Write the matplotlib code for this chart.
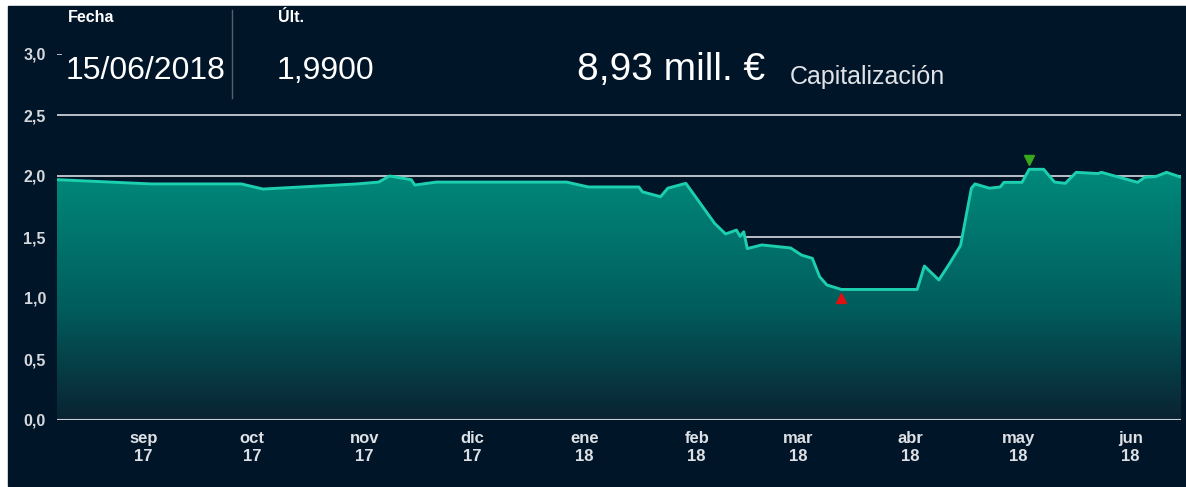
import matplotlib
matplotlib.use("Agg")
import matplotlib.pyplot as plt
import matplotlib.dates as mdates
import numpy as np
import pandas as pd
from matplotlib.colors import LinearSegmentedColormap
from matplotlib.patches import Rectangle
from matplotlib.lines import Line2D
from matplotlib import transforms

# datos (cotizacion diaria aprox.)
fechas = [
    "2017-08-08", "2017-09-03", "2017-09-28", "2017-10-04", "2017-10-30",
    "2017-11-05", "2017-11-08", "2017-11-14", "2017-11-15", "2017-11-21",
    "2017-12-27", "2018-01-02", "2018-01-16", "2018-01-17", "2018-01-22",
    "2018-01-24", "2018-01-29", "2018-02-06", "2018-02-09", "2018-02-12",
    "2018-02-13", "2018-02-14", "2018-02-15", "2018-02-19", "2018-02-27",
    "2018-03-02", "2018-03-05", "2018-03-07", "2018-03-09", "2018-03-13",
    "2018-04-03", "2018-04-05", "2018-04-09", "2018-04-12", "2018-04-15",
    "2018-04-18", "2018-04-19", "2018-04-23", "2018-04-26", "2018-04-27",
    "2018-05-02", "2018-05-04", "2018-05-08", "2018-05-11", "2018-05-14",
    "2018-05-17", "2018-05-23", "2018-05-24", "2018-06-03", "2018-06-05",
    "2018-06-08", "2018-06-11", "2018-06-15",
]
precios = [
    1.97, 1.935, 1.935, 1.893, 1.935,
    1.95, 2.00, 1.97, 1.926, 1.95,
    1.95, 1.91, 1.91, 1.87, 1.83,
    1.90, 1.94, 1.61, 1.525, 1.557,
    1.505, 1.543, 1.405, 1.435, 1.41,
    1.352, 1.325, 1.175, 1.107, 1.07,
    1.07, 1.262, 1.148, 1.284, 1.43,
    1.90, 1.935, 1.90, 1.91, 1.948,
    1.948, 2.055, 2.055, 1.95, 1.94,
    2.03, 2.02, 2.03, 1.948, 1.99,
    1.995, 2.03, 1.99,
]
meses = ["sep", "oct", "nov", "dic", "ene", "feb", "mar", "abr", "may", "jun"]
anios = ["17", "17", "17", "17", "18", "18", "18", "18", "18", "18"]
ticks_x = ["2017-09-01", "2017-10-01", "2017-11-01", "2017-12-01", "2018-01-01",
           "2018-02-01", "2018-03-01", "2018-04-01", "2018-05-01", "2018-06-01"]
ticks_y = [0.0, 0.5, 1.0, 1.5, 2.0, 2.5, 3.0]

fecha_ult = "15/06/2018"
ult = "1,9900"
capitalizacion = "8,93 mill. €"

BG = "#011529"
LINEA = "#1ccfae"
GRID = "#c9ced3"
plt.rcParams["font.family"] = ["Liberation Sans", "DejaVu Sans"]

W, H = 1186, 487
fig = plt.figure(figsize=(W / 100, H / 100), dpi=100)
fig.patch.set_facecolor("white")
fig.add_artist(Rectangle((8 / W, 1 / H), (W - 8) / W, (H - 7) / H,
                         transform=fig.transFigure, color=BG, zorder=0))

ax = fig.add_axes([57 / W, 67 / H, 1124 / W, 366 / H])
ax.set_facecolor(BG)
for s in ax.spines.values():
    s.set_visible(False)

x = pd.to_datetime(fechas)
y = np.array(precios)
xn = mdates.date2num(x)

ax.set_xlim(mdates.date2num(pd.Timestamp("2017-08-08")),
            mdates.date2num(pd.Timestamp("2018-06-15")))
ax.set_ylim(0, 3.0)

# lineas horizontales (quedan por debajo del area, salvo la del cero)
for v in ticks_y[1:-1]:
    ax.axhline(v, color=GRID, lw=1.3, zorder=1)
ax.axhline(0.0, color=GRID, lw=1.5, zorder=5)
ax.axhline(3.0, xmin=0, xmax=0.004, color=GRID, lw=1.3, zorder=1)

# area con degradado
poly = ax.fill_between(xn, 0, y, color="none", lw=0, zorder=2)
cmap = LinearSegmentedColormap.from_list(
    "grad", [(0, "#0a2232"), (0.45, "#015d5d"), (1, "#008a7c")])
grad = np.linspace(0, 1, 256).reshape(-1, 1)
img = ax.imshow(grad, cmap=cmap, aspect="auto", origin="lower",
                extent=[xn[0], xn[-1], 0, y.max()], zorder=2)
img.set_clip_path(poly.get_paths()[0], transform=ax.transData)
ax.plot(xn, y, color=LINEA, lw=2.1, zorder=3, solid_joinstyle="round")

# marcadores de minimo y maximo
i_min = int(np.argmin(y))
i_max = int(np.argmax(y))
off_min = transforms.offset_copy(ax.transData, fig=fig, x=0, y=-6, units="points")
off_max = transforms.offset_copy(ax.transData, fig=fig, x=0, y=7, units="points")
ax.plot(xn[i_min], y[i_min], marker="^", ms=7.5, color="#e01010", transform=off_min, zorder=4)
ax.plot(xn[i_max], y[i_max], marker="v", ms=7.5, color="#3aa81e", transform=off_max, zorder=4)

# ejes
ax.set_yticks(ticks_y)
ax.set_yticklabels([f"{v:.1f}".replace(".", ",") for v in ticks_y])
ax.tick_params(axis="y", length=0, pad=8, labelsize=11.5, labelcolor="#d5d9dd")
ax.set_xticks(mdates.date2num(pd.to_datetime(ticks_x)))
ax.set_xticklabels([f"{m}\n{a}" for m, a in zip(meses, anios)])
ax.tick_params(axis="x", length=0, pad=8, labelsize=12, labelcolor="#dde1e5")
for t in ax.get_xticklabels() + ax.get_yticklabels():
    t.set_fontweight("bold")
    t.set_linespacing(1.25)

# cabecera
fig.text(68 / W, 1 - 18 / H, "Fecha", color="white", fontsize=11.5, fontweight="bold", va="center")
fig.text(66 / W, 1 - 71 / H, fecha_ult, color="white", fontsize=23, va="center")
fig.add_artist(Line2D([232 / W, 232 / W], [1 - 10 / H, 1 - 98 / H],
                      transform=fig.transFigure, color="#56606c", lw=1))
fig.text(278 / W, 1 - 18 / H, "Últ.", color="white", fontsize=11.5, fontweight="bold", va="center")
fig.text(277 / W, 1 - 71 / H, ult, color="white", fontsize=23, va="center")
fig.text(577 / W, 1 - 70 / H, capitalizacion, color="white", fontsize=28, va="center")
fig.text(790 / W, 1 - 77 / H, "Capitalización", color="#dfe3e7", fontsize=18, va="center")

fig.savefig("out.png", dpi=100, facecolor=fig.get_facecolor())
